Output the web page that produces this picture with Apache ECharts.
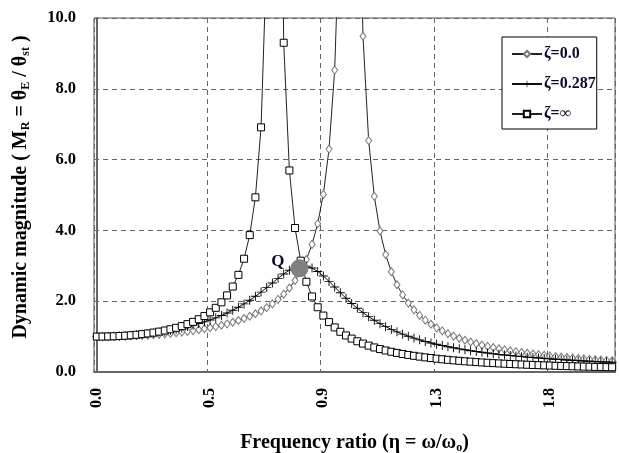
<!DOCTYPE html>
<html><head><meta charset="utf-8">
<script src="https://cdn.jsdelivr.net/npm/echarts@6/dist/echarts.min.js"></script>
<style>html,body{margin:0;padding:0;background:#fff}#c{width:619px;height:453px}</style>
</head><body><div id="c"></div>
<script>
// frequency ratio of each sample (category axis)
const eta = [0,0.0225,0.045,0.0675,0.09,0.1125,0.135,0.1575,0.18,0.2025,0.225,0.2475,0.27,0.2925,0.315,0.3375,0.36,0.3825,0.405,0.4275,0.45,0.4725,0.495,0.5175,0.54,0.5625,0.585,0.6075,0.63,0.6525,0.675,0.6975,0.72,0.7425,0.765,0.7875,0.81,0.8325,0.855,0.8775,0.9,0.9225,0.945,0.9675,0.99,1.0125,1.035,1.0575,1.08,1.1025,1.125,1.1475,1.17,1.1925,1.215,1.2375,1.26,1.2825,1.305,1.3275,1.35,1.3725,1.395,1.4175,1.44,1.4625,1.485,1.5075,1.53,1.5525,1.575,1.5975,1.62,1.6425,1.665,1.6875,1.71,1.7325,1.755,1.7775,1.8,1.8225,1.845,1.8675,1.89,1.9125,1.935,1.9575,1.98,2.0025,2.025,2.0475];
const xTickLabels = ['0.0','0.5','0.9','1.3','1.8'];
const seriesNames = ['\u03b6=0.0','\u03b6=0.287','\u03b6=\u221e'];
const zeta0 = [1.000,1.001,1.002,1.005,1.008,1.013,1.018,1.025,1.033,1.042,1.053,1.064,1.078,1.092,1.109,1.127,1.147,1.169,1.194,1.221,1.250,1.283,1.320,1.360,1.405,1.455,1.511,1.574,1.646,1.727,1.819,1.926,2.051,2.198,2.372,2.584,2.845,3.175,3.605,4.187,5.017,6.298,8.528,13.38,32.06,74.9,16.98,9.485,6.537,4.963,3.983,3.316,2.832,2.465,2.178,1.946,1.756,1.598,1.463,1.348,1.248,1.160,1.083,1.014,0.953,0.897,0.848,0.802,0.761,0.723,0.689,0.657,0.627,0.600,0.575,0.551,0.529,0.508,0.489,0.471,0.454,0.438,0.423,0.409,0.395,0.382,0.370,0.359,0.348,0.337,0.328,0.318];
const zeta287 = [1.000,1.001,1.004,1.009,1.016,1.025,1.037,1.050,1.066,1.084,1.104,1.127,1.152,1.180,1.211,1.245,1.282,1.323,1.368,1.417,1.471,1.530,1.595,1.666,1.744,1.830,1.924,2.026,2.138,2.257,2.384,2.515,2.646,2.769,2.876,2.956,2.996,2.991,2.937,2.840,2.711,2.560,2.400,2.239,2.083,1.937,1.801,1.676,1.563,1.460,1.366,1.281,1.204,1.134,1.069,1.011,0.957,0.908,0.863,0.821,0.783,0.747,0.714,0.683,0.654,0.627,0.602,0.579,0.557,0.536,0.516,0.498,0.481,0.464,0.449,0.434,0.420,0.407,0.394,0.382,0.371,0.360,0.349,0.339,0.330,0.321,0.312,0.304,0.296,0.288,0.281,0.274];
const zetaInf = [1.000,1.001,1.004,1.009,1.017,1.026,1.038,1.052,1.070,1.090,1.113,1.140,1.172,1.208,1.249,1.297,1.352,1.416,1.491,1.580,1.686,1.813,1.969,2.164,2.414,2.744,3.200,3.867,4.934,6.911,11.81,44.12,24.15,9.301,5.693,4.068,3.144,2.549,2.134,1.829,1.594,1.409,1.259,1.136,1.032,0.944,0.868,0.802,0.745,0.694,0.648,0.608,0.571,0.539,0.509,0.482,0.457,0.434,0.413,0.394,0.376,0.359,0.344,0.329,0.316,0.303,0.292,0.280,0.270,0.260,0.251,0.242,0.234,0.226,0.219,0.212,0.205,0.199,0.193,0.187,0.182,0.176,0.171,0.166,0.162,0.157,0.153,0.149,0.145,0.142,0.138,0.135];
const qPoint = [0.805, 2.93];
const qLabel = 'Q';

const FONT = "'Liberation Serif','Times New Roman',serif";
const chart = echarts.init(document.getElementById('c'), null, {renderer:'canvas'});
const plus = 'path://M4.5,0H5.5V4.5H10V5.5H5.5V10H4.5V5.5H0V4.5H4.5Z';
chart.setOption({
  animation:false,
  backgroundColor:'#fff',
  grid:{left:94,right:4,top:18,bottom:81,outerBoundsMode:'none',containLabel:false,show:true,borderColor:'#555',borderWidth:1,backgroundColor:'transparent'},
  legend:{
    orient:'vertical',left:502,top:37,
    data:seriesNames,
    backgroundColor:'#fff',borderColor:'#000',borderWidth:1,
    padding:[7,1,5,9],itemGap:10,itemWidth:30,itemHeight:8,
    textStyle:{fontFamily:FONT,fontWeight:'bold',fontSize:16,lineHeight:20,color:'#0a0a2a',padding:[0,0,0,-3]}
  },
  xAxis:[{
    type:'category',data:eta,boundaryGap:true,
    axisLine:{lineStyle:{color:'#666',width:2}},
    axisTick:{show:false},
    axisLabel:{interval:19,rotate:90,margin:16,fontFamily:FONT,fontWeight:'bold',fontSize:16,color:'#000',
      formatter:(v,i)=>xTickLabels[i/20]},
    splitLine:{show:true,interval:19,lineStyle:{color:'#666',type:[5,4],width:1}},
    name:'Frequency ratio (\u03b7 = \u03c9/\u03c9{s|o})',nameLocation:'middle',nameGap:60,
    nameTextStyle:{fontFamily:FONT,fontWeight:'bold',fontSize:20,color:'#000',
      rich:{s:{fontFamily:FONT,fontWeight:'bold',fontSize:12,color:'#000',padding:[10,0,0,0]}}}
  },{
    type:'value',min:-0.01125,max:2.05875,show:false
  }],
  yAxis:{
    type:'value',min:0,max:10,interval:2,
    axisLine:{show:true,lineStyle:{color:'#666',width:2}},
    axisTick:{show:false},
    axisLabel:{margin:18,fontFamily:FONT,fontWeight:'bold',fontSize:16.5,color:'#000',formatter:v=>v.toFixed(1)},
    splitLine:{show:true,lineStyle:{color:'#666',type:[5,4],width:1}},
    name:'Dynamic magnitude ( M{s|R} = \u03b8{s|E} / \u03b8{s|st} )',nameLocation:'middle',nameGap:62,
    nameTextStyle:{fontFamily:FONT,fontWeight:'bold',fontSize:20,color:'#000',padding:[0,0,0,16],
      rich:{s:{fontFamily:FONT,fontWeight:'bold',fontSize:12,color:'#000',padding:[10,0,0,0]}}}
  },
  series:[
    {name:seriesNames[0],type:'line',data:zeta0,symbol:'diamond',symbolSize:[6,8],showAllSymbol:true,
      lineStyle:{color:'#222',width:1},itemStyle:{color:'#fff',borderColor:'#777',borderWidth:1},z:2},
    {name:seriesNames[1],type:'line',data:zeta287,symbol:plus,symbolSize:9,showAllSymbol:true,
      lineStyle:{color:'#111',width:1},itemStyle:{color:'#000',borderWidth:0},z:3},
    {name:seriesNames[2],type:'line',data:zetaInf,symbol:'rect',symbolSize:7,showAllSymbol:true,
      lineStyle:{color:'#222',width:1},itemStyle:{color:'#fff',borderColor:'#000',borderWidth:1},z:4},
    {type:'scatter',xAxisIndex:1,data:[qPoint],symbol:'circle',symbolSize:18,zlevel:1,
      itemStyle:{color:'#808080',opacity:1},z:10,
      label:{show:true,formatter:qLabel,position:'left',distance:6,offset:[0,-7],
        fontFamily:FONT,fontWeight:'bold',fontSize:17,color:'#0a0a2a'}}
  ]
});
</script></body></html>
